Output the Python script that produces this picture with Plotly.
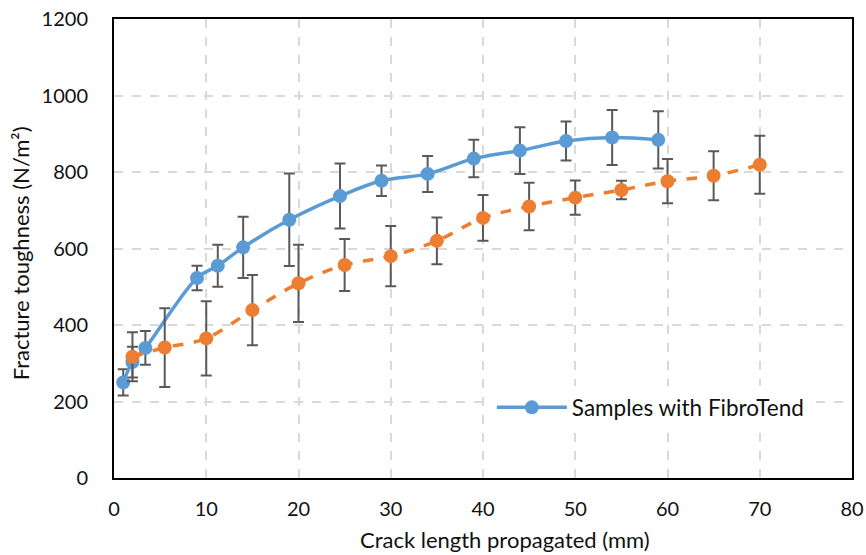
import plotly.graph_objects as go

# Data
blue_x = [1, 2, 3.4, 9, 11.25, 14, 19, 24.5, 29, 34, 39, 44, 49, 54, 59]
blue_y = [250, 303, 340, 523, 555, 603, 675, 737, 777, 795, 835, 856, 881, 890, 884]
blue_err = [34, 40, 44, 32, 55, 80, 121, 85, 40, 47, 49, 61, 51, 72, 75]

orange_x = [2, 5.5, 10, 15, 20, 25, 30, 35, 40, 45, 50, 55, 60, 65, 70]
orange_y = [317, 341, 365, 439, 509, 557, 580, 620, 680, 710, 733, 753, 776, 790, 819]
orange_err = [64, 103, 97, 92, 101, 68, 79, 61, 60, 62, 45, 24, 58, 64, 76]

x_ticks = [0, 10, 20, 30, 40, 50, 60, 70, 80]
y_ticks = [0, 200, 400, 600, 800, 1000, 1200]

FONT = "Lato"
TXT = "#111111"
BLUE = "#5B9BD5"
ORANGE = "#ED7D31"
ERR = "#595959"

fig = go.Figure()
fig.add_trace(go.Scatter(
    x=blue_x, y=blue_y, mode="lines+markers", name="Samples with FibroTend",
    line=dict(color=BLUE, width=3.5, shape="spline", smoothing=1),
    marker=dict(color=BLUE, size=14),
    error_y=dict(type="data", array=blue_err, visible=True, color=ERR, thickness=2, width=5.5),
))
fig.add_trace(go.Scatter(
    x=orange_x, y=orange_y, mode="lines+markers", name="Samples without FibroTend",
    showlegend=False,
    line=dict(color=ORANGE, width=3.5, dash="dash", shape="spline", smoothing=1),
    marker=dict(color=ORANGE, size=14),
    error_y=dict(type="data", array=orange_err, visible=True, color=ERR, thickness=2, width=5.5),
))

axis_common = dict(
    showline=True, linecolor="black", linewidth=2, mirror=True,
    showgrid=True, gridcolor="#D9D9D9", gridwidth=1.5, griddash="dash",
    zeroline=False, ticks="", automargin=False,
    tickfont=dict(family=FONT, size=20, color=TXT),
)

fig.update_xaxes(range=[0, 80], tickvals=x_ticks, ticklabelstandoff=12, **axis_common)
fig.update_yaxes(range=[0, 1200], tickvals=y_ticks, ticklabelstandoff=20, **axis_common)

fig.update_layout(
    width=866, height=555,
    margin=dict(l=114, r=14, t=19, b=77),
    plot_bgcolor="white", paper_bgcolor="white",
    font=dict(family=FONT, size=20, color=TXT),
    showlegend=True,
    legend=dict(x=0.512, y=0.2, xanchor="left", yanchor="top", bgcolor="white",
                itemwidth=70, font=dict(family=FONT, size=22.5, color=TXT)),
    annotations=[
        dict(text="Crack length propagated (mm)", xref="paper", yref="paper",
             x=0.53, y=-0.135, xanchor="center", yanchor="middle", showarrow=False,
             font=dict(family=FONT, size=22, color=TXT)),
        dict(text="Fracture toughness (N/m²)", xref="paper", yref="paper",
             x=-0.127, y=0.49, xanchor="center", yanchor="middle", textangle=-90,
             showarrow=False, font=dict(family=FONT, size=22, color=TXT)),
    ],
)

fig.write_html("out.html")
